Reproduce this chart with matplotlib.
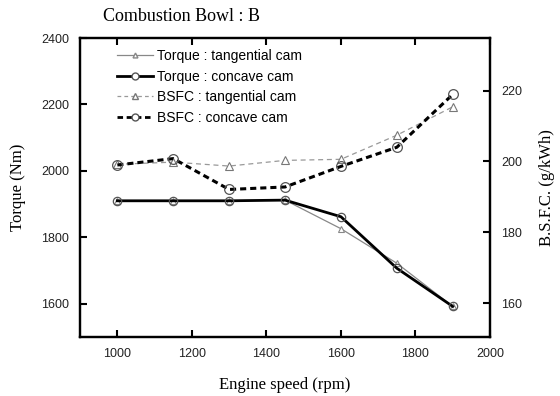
import matplotlib.pyplot as plt
from matplotlib.lines import Line2D

speed = [1000, 1150, 1300, 1450, 1600, 1750, 1900]
torque_tangential = [1910, 1910, 1910, 1912, 1826, 1722, 1592]
torque_concave = [1910, 1910, 1910, 1912, 1862, 1707, 1592]
bsfc_tangential = [199.2, 199.8, 198.7, 200.3, 200.6, 207.4, 215.4]
bsfc_concave = [199.0, 200.8, 192.1, 192.8, 198.6, 204.0, 218.9]

serif = 'Liberation Serif'
sans = 'Liberation Sans'

fig = plt.figure(figsize=(5.6, 3.96), dpi=100)
ax = fig.add_axes([0.143, 0.149, 0.732, 0.755])
ax2 = ax.twinx()

ax.plot(speed, torque_tangential, color='#888888', lw=0.9, marker='^', ms=4,
        mfc='white', mec='#888888', mew=0.8)
ax.plot(speed, torque_concave, color='black', lw=2.0, marker='o', ms=6,
        mfc='none', mec='#555555', mew=0.9)
ax2.plot(speed, bsfc_tangential, color='#999999', lw=0.9, ls=(0, (4, 3)), marker='^', ms=6,
         mfc='white', mec='#777777', mew=0.8)
ax2.plot(speed, bsfc_concave, color='black', lw=2.2, ls=(0, (2, 1.3)), marker='o', ms=7,
         mfc='none', mec='#555555', mew=0.9)

ax.set_xlim(900, 2000)
ax.set_ylim(1500, 2400)
ax2.set_ylim(150.5, 234.8)
ax.set_xticks([1000, 1200, 1400, 1600, 1800, 2000])
ax.set_yticks([1600, 1800, 2000, 2200, 2400])
ax2.set_yticks([160, 180, 200, 220])

for a in (ax, ax2):
    for s in a.spines.values():
        s.set_linewidth(1.6)
ax.tick_params(direction='in', length=5, width=1.5, top=True, labelsize=9, pad=8)
ax2.tick_params(direction='in', length=5, width=1.5, labelsize=9, pad=8)
for lbl in ax.get_xticklabels() + ax.get_yticklabels() + ax2.get_yticklabels():
    lbl.set_fontfamily(sans)
    lbl.set_color('#222222')

ax.set_xlabel('Engine speed (rpm)', fontfamily=serif, fontsize=12, labelpad=12)
ax.set_ylabel('Torque (Nm)', fontfamily=serif, fontsize=12, labelpad=11)
ax2.set_ylabel('B.S.F.C. (g/kWh)', fontfamily=serif, fontsize=12, labelpad=12)
fig.text(0.184, 0.959, 'Combustion Bowl : B', fontfamily=serif, fontsize=13,
         ha='left', va='center')

handles = [
    Line2D([], [], color='#888888', lw=0.9, marker='^', ms=3.5, mfc='white', mec='#888888'),
    Line2D([], [], color='black', lw=2.0, marker='o', ms=5, mfc='white', mec='#555555'),
    Line2D([], [], color='#999999', lw=0.9, ls=(0, (3, 2.5)), marker='^', ms=4, mfc='white', mec='#777777'),
    Line2D([], [], color='black', lw=2.0, ls=(0, (2, 1.3)), marker='o', ms=5, mfc='white', mec='#555555'),
]
labels = ['Torque : tangential cam', 'Torque : concave cam',
          'BSFC : tangential cam', 'BSFC : concave cam']
ax2.legend(handles, labels, loc='upper left', bbox_to_anchor=(0.06, 1.005), frameon=False,
           prop={'family': sans, 'size': 10}, handlelength=2.6, handletextpad=0.25,
           labelspacing=0.47)

fig.savefig('out.png', dpi=100)
